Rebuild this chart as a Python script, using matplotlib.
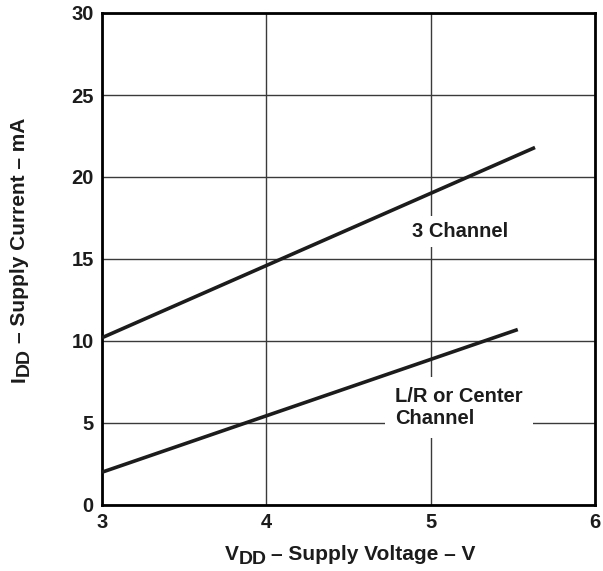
import matplotlib
matplotlib.use("Agg")
import matplotlib.pyplot as plt
from matplotlib.transforms import IdentityTransform

plt.rcParams["font.family"] = ["Liberation Sans", "DejaVu Sans"]
plt.rcParams["font.weight"] = "bold"

# Supply current vs supply voltage (straight-line characteristics)
vdd_3ch = [3.0, 5.635]
idd_3ch = [10.2, 21.8]
vdd_lr = [3.0, 5.53]
idd_lr = [2.0, 10.7]

x_ticks = [3, 4, 5, 6]
y_ticks = [0, 5, 10, 15, 20, 25, 30]

INK = "#1c1c1c"
W, H = 603, 571

fig = plt.figure(figsize=(W / 100, H / 100), dpi=100)
ax = fig.add_axes([102 / W, 66 / H, 493 / W, 492 / H])

ax.set_xlim(3, 6)
ax.set_ylim(0, 30)
ax.set_xticks(x_ticks)
ax.set_yticks(y_ticks)
ax.tick_params(length=0, labelsize=14.5, pad=6, labelcolor=INK)
for lbl in ax.get_xticklabels() + ax.get_yticklabels():
    lbl.set_fontweight("bold")

ax.grid(True, color="#3a3a3a", linewidth=1.0, zorder=0)
for s in ax.spines.values():
    s.set_linewidth(2.0)
    s.set_color("black")

ax.plot(vdd_3ch, idd_3ch, color=INK, linewidth=2.6, solid_capstyle="butt", zorder=5)
ax.plot(vdd_lr, idd_lr, color=INK, linewidth=2.6, solid_capstyle="butt", zorder=5)

ax.text(5.18, 16.65, "3 Channel", ha="center", va="center", fontsize=14.5,
        fontweight="bold", color=INK, zorder=4,
        bbox=dict(facecolor="white", edgecolor="none", boxstyle="square,pad=0.3"))
ax.text(4.783, 5.95, "L/R or Center\nChannel", ha="left", va="center", fontsize=14.5,
        fontweight="bold", color=INK, linespacing=1.15, zorder=4,
        bbox=dict(facecolor="white", edgecolor="none", boxstyle="square,pad=0.5"))


def subscript_label(main, sub, rest, size, sub_size, drop, rotation, anchor, center):
    """Draw a label with a large, lowered subscript as three chained texts.

    anchor: baseline coordinate (pixels) perpendicular to the text direction.
    center: pixel coordinate along the text direction where the label is centred.
    """
    renderer = fig.canvas.get_renderer()
    kw = dict(transform=IdentityTransform(), rotation=rotation,
              rotation_mode="anchor", ha="left", va="baseline",
              fontweight="bold", color=INK)
    pieces = [(main, size, 0.0, 0.0), (sub, sub_size, drop, 0.0), ("– " + rest, size, 0.0, 5.0)]
    texts, lengths, gaps = [], [], []
    for txt, sz, dr, gap in pieces:
        t = fig.text(0, 0, txt, fontsize=sz, **kw)
        bb = t.get_window_extent(renderer)
        lengths.append(bb.height if rotation else bb.width)
        gaps.append(gap)
        texts.append((t, dr))
    total = sum(lengths) + sum(gaps)
    cursor = center - total / 2
    for (t, dr), ln, gap in zip(texts, lengths, gaps):
        cursor += gap
        if rotation:
            t.set_position((anchor + dr, cursor))
        else:
            t.set_position((cursor, anchor - dr))
        cursor += ln


subscript_label("V", "DD", "Supply Voltage – V", 15, 14, 4.0, 0, H - 560, 350)
subscript_label("I", "DD", "Supply Current – mA", 15, 14, 4.0, 90, 25, H - 250)

fig.savefig("out.png", dpi=100)
